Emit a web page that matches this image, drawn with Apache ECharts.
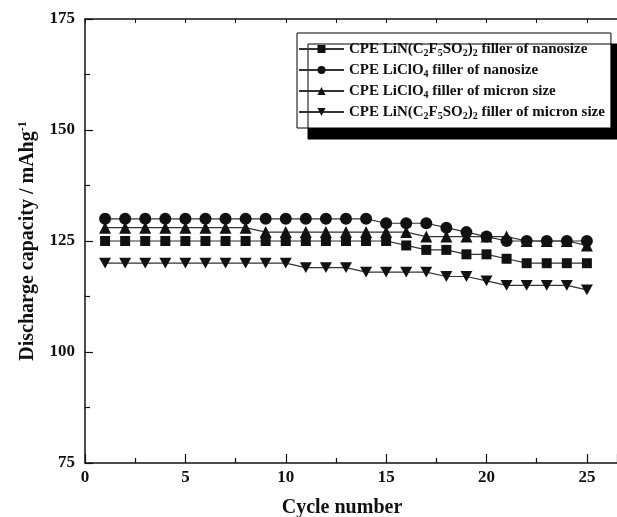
<!DOCTYPE html>
<html>
<head>
<meta charset="utf-8">
<script src="https://cdn.jsdelivr.net/npm/echarts@6/dist/echarts.min.js"></script>
<style>
html,body{margin:0;padding:0;background:#fff;}
#chart{width:617px;height:517px;}
</style>
</head>
<body>
<div id="chart"></div>
<script>
const cycles = [1,2,3,4,5,6,7,8,9,10,11,12,13,14,15,16,17,18,19,20,21,22,23,24,25];
const nanoLiN = [125,125,125,125,125,125,125,125,125,125,125,125,125,125,125,124,123,123,122,122,121,120,120,120,120];
const nanoLiClO4 = [130,130,130,130,130,130,130,130,130,130,130,130,130,130,129,129,129,128,127,126,125,125,125,125,125];
const micronLiClO4 = [128,128,128,128,128,128,128,128,127,127,127,127,127,127,127,127,126,126,126,126,126,125,125,125,124];
const micronLiN = [120,120,120,120,120,120,120,120,120,120,119,119,119,118,118,118,118,117,117,116,115,115,115,115,114];
const seriesNames = ['nanoLiN','nanoLiClO4','micronLiClO4','micronLiN'];
const legendLabels = {
  nanoLiN: '{n|CPE LiN(C}{s|2}{n|F}{s|5}{n|SO}{s|2}{n|)}{s|2}{n| filler of nanosize}',
  nanoLiClO4: '{n|CPE LiClO}{s|4}{n| filler of nanosize}',
  micronLiClO4: '{n|CPE LiClO}{s|4}{n| filler of micron size}',
  micronLiN: '{n|CPE LiN(C}{s|2}{n|F}{s|5}{n|SO}{s|2}{n|)}{s|2}{n| filler of micron size}'
};
const yTicks = [75,100,125,150,175];
const xTicks = [0,5,10,15,20,25];

const FONT = '"Liberation Serif","Times New Roman",serif';
function pairs(arr){ return cycles.map((c,i)=>[c,arr[i]]); }
const downTri = 'path://M0,0 L10,0 L5,9 Z';
const symbols = {nanoLiN:['rect',10], nanoLiClO4:['circle',12], micronLiClO4:['triangle',12], micronLiN:[downTri,12]};
const dataMap = {nanoLiN:nanoLiN, nanoLiClO4:nanoLiClO4, micronLiClO4:micronLiClO4, micronLiN:micronLiN};

const chart = echarts.init(document.getElementById('chart'), null, {renderer:'canvas'});
const axisText = {color:'#111', fontFamily:FONT, fontWeight:'bold', fontSize:17};
chart.setOption({
  animation:false,
  backgroundColor:'#fff',
  grid:{left:85, right:0, top:19, bottom:54},
  legend:{
    orient:'vertical', left:297, top:33,
    data: seriesNames,
    itemWidth:45, itemHeight:10, itemGap:3,
    padding:[7,6,7,1],
    backgroundColor:'#fff', borderColor:'#000', borderWidth:1,
    shadowColor:'#000', shadowBlur:0, shadowOffsetX:11, shadowOffsetY:11,
    formatter: n => legendLabels[n],
    textStyle:{
      color:'#111', fontFamily:FONT, fontWeight:'bold', fontSize:15,
      rich:{
        n:{fontFamily:FONT, fontWeight:'bold', fontSize:15, color:'#111', lineHeight:18, verticalAlign:'middle'},
        s:{fontFamily:FONT, fontWeight:'bold', fontSize:10, color:'#111', lineHeight:10, padding:[8,0,0,0], verticalAlign:'middle'}
      }
    }
  },
  xAxis:[{
    type:'value', min:0, max:26.5, interval:5,
    axisLine:{show:true, onZero:false, lineStyle:{color:'#111', width:1.5}},
    axisTick:{show:true, inside:true, length:9, lineStyle:{color:'#111', width:1.2}},
    minorTick:{show:true, splitNumber:2, length:5, lineStyle:{color:'#111', width:1.2}},
    splitLine:{show:false},
    axisLabel:Object.assign({margin:6, showMaxLabel:false}, axisText)
  },{
    type:'value', position:'top', min:0, max:26.5, interval:2.5,
    axisLine:{show:true, onZero:false, lineStyle:{color:'#111', width:1.5}},
    axisTick:{show:true, inside:true, length:4, lineStyle:{color:'#111', width:1}},
    axisLabel:{show:false}, splitLine:{show:false}
  }],
  yAxis:{
    type:'value', min:75, max:175, interval:25,
    name:'{t|Discharge capacity / mAhg}{sup|-1}',
    nameLocation:'middle', nameRotate:90, nameGap:45,
    nameTextStyle:{
      rich:{
        t:{fontFamily:FONT, fontWeight:'bold', fontSize:20, color:'#111', lineHeight:24},
        sup:{fontFamily:FONT, fontWeight:'bold', fontSize:12, color:'#111', lineHeight:24, padding:[0,0,10,0]}
      }
    },
    axisLine:{show:true, onZero:false, lineStyle:{color:'#111', width:1.5}},
    axisTick:{show:true, inside:true, length:8, lineStyle:{color:'#111', width:1.2}},
    minorTick:{show:true, splitNumber:2, length:5, lineStyle:{color:'#111', width:1.2}},
    splitLine:{show:false},
    axisLabel:Object.assign({margin:10}, axisText)
  },
  graphic:[{
    type:'text', x:342, y:508,
    style:{text:'Cycle number', align:'center', verticalAlign:'middle',
      font:'bold 20px ' + FONT, fill:'#111'}
  }],
  series: seriesNames.map(n => ({
    name:n, type:'line', data:pairs(dataMap[n]),
    symbol:symbols[n][0], symbolSize:symbols[n][1], symbolKeepAspect:true,
    showAllSymbol:true,
    itemStyle:{color:'#111'},
    lineStyle:{color:'#333', width:1.2},
    z: 3
  }))
});
</script>
</body>
</html>
